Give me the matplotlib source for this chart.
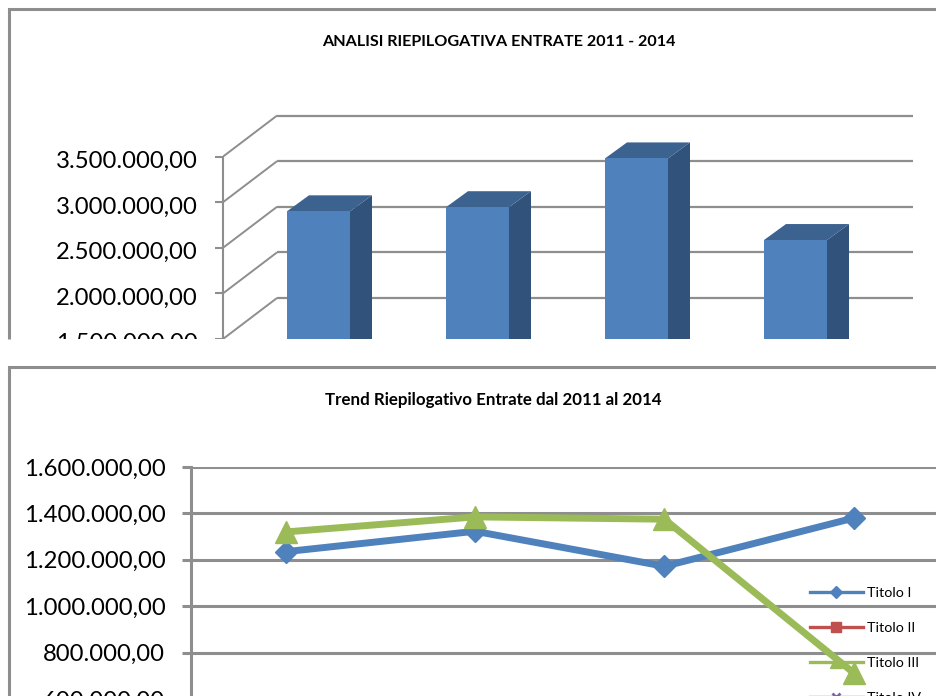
import matplotlib
matplotlib.use('Agg')
import numpy as np
import matplotlib.pyplot as plt
from matplotlib.lines import Line2D
from matplotlib.patches import Rectangle
from matplotlib.transforms import ScaledTranslation

plt.rcParams['font.family'] = ['Lato', 'DejaVu Sans']

## data
anni = [2011, 2012, 2013, 2014]
entrate = [2900000, 2945000, 3480000, 2585000]
tick_top = [1500000, 2000000, 2500000, 3000000, 3500000]
label_top = ['1.500.000,00', '2.000.000,00', '2.500.000,00', '3.000.000,00', '3.500.000,00']
titolo_1 = [1235000, 1323000, 1172000, 1380000]
titolo_3 = [1320000, 1385000, 1375000, 712000]
tick_low = [600000, 800000, 1000000, 1200000, 1400000, 1600000]
label_low = ['600.000,00', '800.000,00', '1.000.000,00', '1.200.000,00', '1.400.000,00', '1.600.000,00']
legend_names = ['Titolo I', 'Titolo II', 'Titolo III', 'Titolo IV']

W, H = 937, 696
GREY = '#8e8e8e'
BLUE = '#4f81bd'
RED = '#c0504d'
GREEN = '#9bbb59'
PURPLE = '#8064a2'

fig = plt.figure(figsize=(W/100, H/100), dpi=100, facecolor='white')

def px_axes(left, top, right, bottom, z):
    return fig.add_axes([left/W, 1-bottom/H, (right-left)/W, (bottom-top)/H], zorder=z)

## top chart, fake 3D like the excel one
ax1 = px_axes(223, 100, 914, 339, 1)
cat = 159.0
val = 500000/45.6
depth_x = 54/cat
depth_y = 41*val
ax1.set_xlim(0, 691/cat)
ax1.set_ylim(1500000, 1500000+239*val)
ax1.patch.set_alpha(0)
for s in ['top', 'right', 'bottom']:
    ax1.spines[s].set_visible(False)
ax1.spines['left'].set_color(GREY)
ax1.spines['left'].set_linewidth(1.5)
ax1.spines['left'].set_bounds(1500000, 3500000)
ax1.set_xticks([])
ax1.set_yticks(tick_top)
ax1.set_yticklabels(label_top, fontsize=17.2)
ax1.tick_params(axis='y', length=6, width=1.5, color=GREY, pad=12)
## labels sit a bit under their ticks in the reference
shift = ScaledTranslation(0, -2/72, fig.dpi_scale_trans)
for lab in ax1.get_yticklabels():
    lab.set_transform(lab.get_transform() + shift)

for v in tick_top:
    ax1.plot([0, depth_x], [v, v+depth_y], color=GREY, lw=1.4, zorder=1, solid_capstyle='butt')
    ax1.plot([depth_x, 4+depth_x], [v+depth_y, v+depth_y], color=GREY, lw=1.6, zorder=1, solid_capstyle='butt')

x = np.arange(4)
bar_w = 63/cat
bar_x = x + 64/cat
bar_dx = 22/cat
bar_dy = 16*val
ax1.bar(bar_x, np.array(entrate)-1500000, bottom=1500000, width=bar_w, align='edge', color=BLUE, zorder=3)
for xi, v in zip(bar_x, entrate):
    ax1.fill([xi+bar_w, xi+bar_w+bar_dx, xi+bar_w+bar_dx, xi+bar_w],
             [v, v+bar_dy, 1500000, 1500000], color='#31527a', lw=0, zorder=2)
    ax1.fill([xi, xi+bar_dx, xi+bar_w+bar_dx, xi+bar_w],
             [v, v+bar_dy, v+bar_dy, v], color='#3c628f', lw=0, zorder=2)

## frames and the gap between the two pasted charts
over = fig.add_axes([0, 0, 1, 1], zorder=2)
over.set_xlim(0, W)
over.set_ylim(H, 0)
over.axis('off')
over.add_patch(Rectangle((0, 339), W, 27, color='white', lw=0))
over.plot([9, 9, W], [339, 8.5, 8.5], color=GREY, lw=2.2, solid_joinstyle='miter', solid_capstyle='butt')
over.plot([9, 9, W], [H, 367, 367], color=GREY, lw=2.2, solid_joinstyle='miter', solid_capstyle='butt')
over.text(499, 42.5, 'ANALISI RIEPILOGATIVA ENTRATE 2011 - 2014', fontsize=11.6, fontweight='bold', ha='center', va='center')
over.text(493, 400.5, 'Trend Riepilogativo Entrate dal 2011 al 2014', fontsize=12.2, fontweight='bold', ha='center', va='center')

## bottom chart
ax2 = px_axes(191, 467, W, 712, 3)
ax2.patch.set_alpha(0)
step = 200000/46.4
ax2.set_ylim(1600000-245*step, 1600000)
ax2.set_xlim(-0.5, -0.5+(W-190.5)/189.5)
for s in ['top', 'right', 'bottom']:
    ax2.spines[s].set_visible(False)
ax2.spines['left'].set_color(GREY)
ax2.spines['left'].set_linewidth(2.2)
ax2.set_xticks([])
ax2.set_yticks(tick_low)
ax2.set_yticklabels(label_low, fontsize=17.2)
ax2.tick_params(axis='y', length=6.5, width=2.2, color=GREY, pad=12)
ax2.grid(axis='y', color=GREY, lw=2.2)
ax2.set_axisbelow(True)

ax2.plot(x, titolo_1, color=BLUE, lw=5, marker='D', ms=11.5, mec=BLUE, zorder=4, clip_on=False)
ax2.plot(x, titolo_3, color=GREEN, lw=5, marker='^', ms=16, mec=GREEN, zorder=5, clip_on=False)

handles = [Line2D([], [], color=BLUE, lw=2.4, marker='D', ms=6),
           Line2D([], [], color=RED, lw=2.4, marker='s', ms=7),
           Line2D([], [], color=GREEN, lw=2.4, marker='^', ms=8),
           Line2D([], [], color=PURPLE, lw=2.4, marker='x', ms=6, mew=2)]
leg = ax2.legend(handles, legend_names, loc='upper left', bbox_to_anchor=(810/W, 1-587/H),
                 bbox_transform=fig.transFigure, frameon=False, fontsize=10.3, borderpad=0,
                 borderaxespad=0, handlelength=3.7, handletextpad=0.3, labelspacing=1.6)
leg.set_zorder(2)

plt.savefig('out.png', dpi=100)
